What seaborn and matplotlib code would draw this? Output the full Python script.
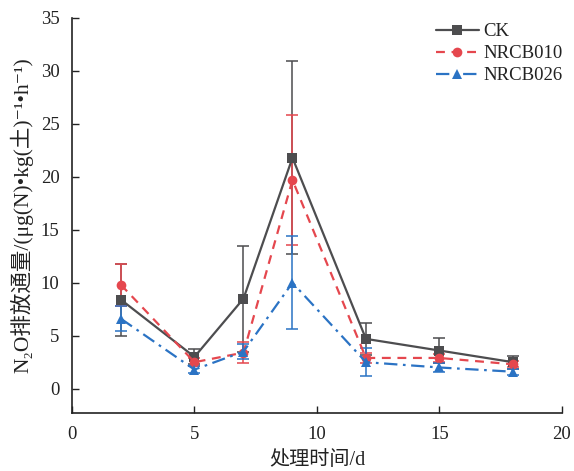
import matplotlib
matplotlib.use("Agg")
import matplotlib.pyplot as plt
import seaborn as sns
import pandas as pd
import numpy as np

days = [2, 5, 7, 9, 12, 15, 18]
series_names = ["CK", "NRCB010", "NRCB026"]
ck = [8.4, 3.0, 8.5, 21.8, 4.7, 3.6, 2.5]
ck_err = [3.4, 0.7, 5.0, 9.1, 1.5, 1.2, 0.6]
nr010 = [9.8, 2.5, 3.4, 19.7, 2.9, 2.9, 2.3]
nr010_err = [2.0, 0.4, 1.0, 6.1, 0.5, 0.4, 0.3]
nr026 = [6.6, 1.8, 3.5, 10.0, 2.5, 2.0, 1.6]
nr026_err = [1.2, 0.3, 0.7, 4.4, 1.3, 0.4, 0.3]

xticks = [0, 5, 10, 15, 20]
yticks = [0, 5, 10, 15, 20, 25, 30, 35]
xlabel = "处理时间/d"
ylabel = "N₂O排放通量/(μg(N)•kg(土)⁻¹•h⁻¹)"

colors = {"CK": "#4d4d4f", "NRCB010": "#e5474e", "NRCB026": "#2b73c4"}
markers = {"CK": "s", "NRCB010": "o", "NRCB026": "^"}
dashes = {"CK": "", "NRCB010": (4, 3), "NRCB026": (6, 2.5, 1.2, 2.5)}

sns.set_theme(style="white")
plt.rcParams["font.family"] = ["Liberation Serif", "Noto Sans CJK SC", "DejaVu Sans"]
plt.rcParams["xtick.direction"] = "in"
plt.rcParams["ytick.direction"] = "in"
plt.rcParams["xtick.bottom"] = True
plt.rcParams["ytick.left"] = True

frames = []
for name, vals in zip(series_names, [ck, nr010, nr026]):
    frames.append(pd.DataFrame({"day": days, "flux": vals, "group": name}))
df = pd.concat(frames, ignore_index=True)

fig = plt.figure(figsize=(5.74, 4.71), dpi=100)
ax = fig.add_axes([0.1254, 0.1231, 0.8536, 0.8387])

errs = {"CK": ck_err, "NRCB010": nr010_err, "NRCB026": nr026_err}
vals_map = {"CK": ck, "NRCB010": nr010, "NRCB026": nr026}
for name in series_names:
    ax.errorbar(days, vals_map[name], yerr=errs[name], fmt="none",
                ecolor=colors[name], elinewidth=1.3, capsize=4.5, capthick=1.3,
                alpha=0.85, zorder=2)

sns.lineplot(data=df, x="day", y="flux", hue="group", style="group",
             palette=colors, markers=markers, dashes=dashes,
             markersize=7, linewidth=1.6, markeredgewidth=0,
             ax=ax, zorder=3)

ax.set_xlim(0, 20)
ax.set_ylim(-2.3, 35)
ax.set_xticks(xticks)
ax.set_yticks(yticks)
ax.tick_params(axis="both", labelsize=13.5, length=5, width=1, color="#222222",
               labelcolor="#222222", bottom=True, left=True)
ax.tick_params(axis="y", pad=9)
ax.tick_params(axis="x", pad=9)
for s in ["top", "right"]:
    ax.spines[s].set_visible(False)
for s in ["left", "bottom"]:
    ax.spines[s].set_color("#222222")
    ax.spines[s].set_linewidth(1.2)
ax.set_xlabel(xlabel, fontsize=14.5, color="#222222", labelpad=6)
ax.set_ylabel(ylabel, fontsize=15.5, color="#222222", labelpad=5)

leg = ax.legend(loc="upper right", bbox_to_anchor=(1.025, 1.015), frameon=False,
                fontsize=13.5, handlelength=2.3, handletextpad=0.25,
                labelspacing=0.25, borderaxespad=0.2)
for t in leg.get_texts():
    t.set_color("#222222")

fig.savefig("out.png", dpi=100)
